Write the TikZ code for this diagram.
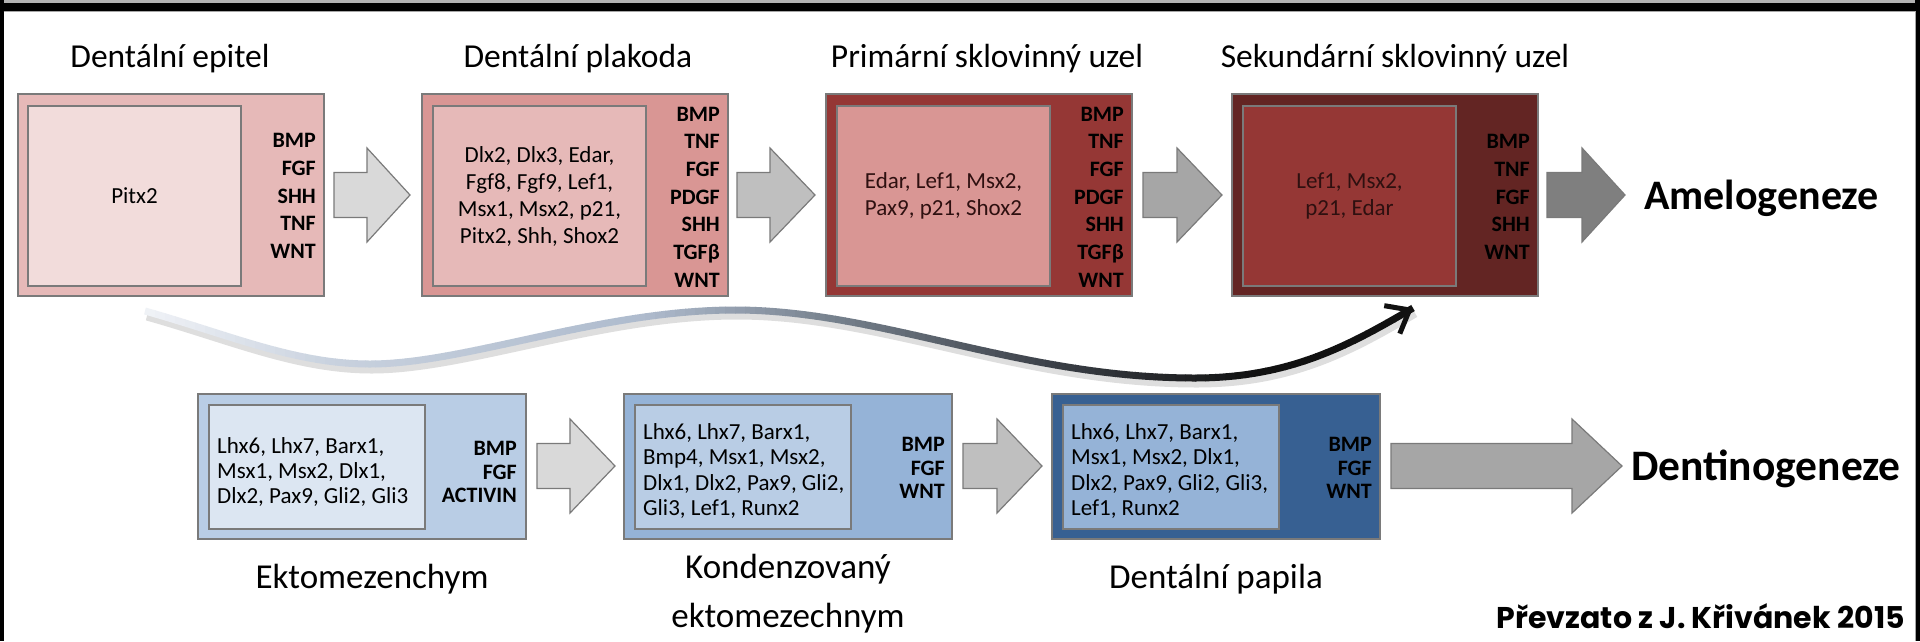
\documentclass[tikz,border=0pt]{standalone}
\usepackage{fontspec}
\setmainfont{Carlito}
\newfontfamily\creditfont{Poppins}
\usetikzlibrary{arrows.meta}

\definecolor{bdr}{HTML}{7A7A7A}
\definecolor{pAo}{HTML}{E6B9B8}\definecolor{pAi}{HTML}{F2DCDB}
\definecolor{pBo}{HTML}{D99694}\definecolor{pBi}{HTML}{E6B9B8}
\definecolor{pCo}{HTML}{953735}\definecolor{pCi}{HTML}{D99694}
\definecolor{pDo}{HTML}{632523}\definecolor{pDi}{HTML}{953735}
\definecolor{qAo}{HTML}{B9CDE5}\definecolor{qAi}{HTML}{DCE6F2}
\definecolor{qBo}{HTML}{95B3D7}\definecolor{qBi}{HTML}{B9CDE5}
\definecolor{qCo}{HTML}{376092}\definecolor{qCi}{HTML}{95B3D7}
\definecolor{gA}{HTML}{D9D9D9}\definecolor{gB}{HTML}{BFBFBF}
\definecolor{gC}{HTML}{A6A6A6}\definecolor{gD}{HTML}{7F7F7F}
\definecolor{wA}{HTML}{F2F4F8}\definecolor{wB}{HTML}{C8D1DE}
\definecolor{wC}{HTML}{AEBBCD}\definecolor{wD}{HTML}{7E8996}
\definecolor{wE}{HTML}{3A3F46}\definecolor{wF}{HTML}{111111}
\definecolor{darktxt}{HTML}{2E1010}

\tikzset{
  obox/.style={draw=bdr, line width=1.3pt, anchor=north west, inner sep=0pt, outer sep=0pt},
  topo/.style={obox, minimum width=306pt, minimum height=202pt},
  topi/.style={obox, minimum width=213pt, minimum height=180pt, align=center,
     font=\fontsize{23}{27}\selectfont},
  boto/.style={obox, minimum width=328pt, minimum height=145pt},
  boti/.style={obox, minimum width=216pt, minimum height=124pt},
  btxt/.style={anchor=west, align=left, inner sep=0pt, font=\fontsize{23}{25.4}\selectfont},
  lab/.style={anchor=east, align=right, inner sep=0pt, font=\fontsize{22}{27.7}\selectfont\bfseries},
  blab/.style={anchor=east, align=right, inner sep=0pt, font=\fontsize{22}{23.5}\selectfont\bfseries},
  ttl/.style={anchor=base, inner sep=0pt, font=\fontsize{33.5}{40}\selectfont},
  bttl/.style={anchor=base, inner sep=0pt, font=\fontsize{35}{40}\selectfont},
  big/.style={anchor=base west, inner sep=0pt, font=\fontsize{42}{50}\selectfont\bfseries},
  barr/.style={draw=bdr, line width=1.2pt, line join=miter},
  wavesty/.style={line width=7pt},
}

\newcommand\blockarrow[5]{% xtail, xhead, xtip, ycenter, fill
  \draw[barr, fill=#5] (#1,#4-22.5) -- (#2,#4-22.5) -- (#2,#4-47) -- (#3,#4)
     -- (#2,#4+47) -- (#2,#4+22.5) -- (#1,#4+22.5) -- cycle;}

\newcommand\drawwave[1]{%
  \draw[wavesty,#1] (w0) .. controls (c1) and (c2) .. (w1)
     .. controls (c3) and (c4) .. (w2)
     .. controls (c5) and (c6) .. (w3)
     .. controls (c7) and (c8) .. (w4);}

\newcommand\waveseg[4]{%
  \pgfmathtruncatemacro\nst{(#2-#1)/10}
  \foreach \k in {1,...,\nst}{
    \pgfmathsetmacro\xa{#1+(\k-1)*10}
    \pgfmathsetmacro\xb{\xa+10.7}
    \pgfmathtruncatemacro\pct{100*(\k-0.5)/\nst}
    \colorlet{wcol}{#4!\pct!#3}
    \begin{scope}
      \clip (\xa,230) rectangle (\xb,440);
      \drawwave{draw=wcol}
    \end{scope}
  }}

\begin{document}
\begin{tikzpicture}[x=1pt,y=-1pt]
\useasboundingbox (0,0) rectangle (1920,641);
\fill[white] (0,0) rectangle (1920,641);

% ---- frame ----
\fill[black] (0,0) rectangle (1920,11);
\fill[gray!60] (0,0) rectangle (1920,2.5);
\fill[black] (0,0) rectangle (3.5,641);
\fill[black] (1915,0) rectangle (1920,641);
\draw[gray!70, line width=1pt] (3.5,11) -- (1915,11) -- (1915,641);

% ---- titles ----
\node[ttl] (h1) at (170,67) {Dentální epitel};
\node[ttl] (h2) at (578,67) {Dentální plakoda};
\node[ttl] (h3) at (987,67) {Primární sklovinný uzel};
\node[ttl] (h4) at (1395,67) {Sekundární sklovinný uzel};

% ---- top boxes ----
\node[topo, fill=pAo] (b1) at (18,94) {};
\node[topi, fill=pAi] (b1i) at (28,106) {Pitx2};
\node[lab] (l1) at (316,196) {BMP\\FGF\\SHH\\TNF\\WNT};

\node[topo, fill=pBo] (b2) at (422,94) {};
\node[topi, fill=pBi] (b2i) at (433,106) {Dlx2, Dlx3, Edar,\\Fgf8, Fgf9, Lef1,\\Msx1, Msx2, p21,\\Pitx2, Shh, Shox2};
\node[lab] (l2) at (720,197) {BMP\\TNF\\FGF\\PDGF\\SHH\\TGFβ\\WNT};

\node[topo, fill=pCo] (b3) at (826,94) {};
\node[topi, fill=pCi, text=darktxt] (b3i) at (837,106) {Edar, Lef1, Msx2,\\Pax9, p21, Shox2};
\node[lab] (l3) at (1124,197) {BMP\\TNF\\FGF\\PDGF\\SHH\\TGFβ\\WNT};

\node[topo, fill=pDo] (b4) at (1232,94) {};
\node[topi, fill=pDi, text=darktxt] (b4i) at (1243,106) {Lef1, Msx2,\\p21, Edar};
\node[lab] (l4) at (1530,197) {BMP\\TNF\\FGF\\SHH\\WNT};

% ---- top arrows ----
\blockarrow{334}{367}{410}{195}{gA}
\blockarrow{737}{770}{815}{195}{gB}
\blockarrow{1143}{1177}{1222}{195}{gC}
\blockarrow{1547}{1582}{1625}{195}{gD}

\node[big] (amel) at (1644,209) {Amelogeneze};

% ---- bottom boxes ----
\node[boto, fill=qAo] (b5) at (198,394) {};
\node[boti, fill=qAi] (b5i) at (209,405) {};
\node[btxt] (t5) at ([xshift=8pt,yshift=-5pt]b5i.west) {Lhx6, Lhx7, Barx1,\\Msx1, Msx2, Dlx1,\\Dlx2, Pax9, Gli2, Gli3};
\node[blab] (l5) at (517,472) {BMP\\FGF\\ACTIVIN};

\node[boto, fill=qBo] (b6) at (624,394) {};
\node[boti, fill=qBi] (b6i) at (635,405) {};
\node[btxt] (t6) at ([xshift=8pt,yshift=-4pt]b6i.west) {Lhx6, Lhx7, Barx1,\\Bmp4, Msx1, Msx2,\\Dlx1, Dlx2, Pax9, Gli2,\\Gli3, Lef1, Runx2};
\node[blab] (l6) at (945,468) {BMP\\FGF\\WNT};

\node[boto, fill=qCo] (b7) at (1052,394) {};
\node[boti, fill=qCi] (b7i) at (1063,405) {};
\node[btxt] (t7) at ([xshift=8pt,yshift=-4pt]b7i.west) {Lhx6, Lhx7, Barx1,\\Msx1, Msx2, Dlx1,\\Dlx2, Pax9, Gli2, Gli3,\\Lef1, Runx2};
\node[blab] (l7) at (1372,468) {BMP\\FGF\\WNT};

% ---- bottom arrows ----
\blockarrow{537}{570}{615}{466}{gA}
\blockarrow{963}{997}{1042}{466}{gB}
\blockarrow{1391}{1572}{1622}{466}{gC}

\node[big, font=\fontsize{43.5}{52}\selectfont\bfseries] (dent) at (1631,480) {Dentinogeneze};

% ---- bottom labels ----
\node[bttl] (e5) at (372,588) {Ektomezenchym};
\node[bttl] (e6a) at (788,578) {Kondenzovaný};
\node[bttl] (e6b) at (788,627) {ektomezechnym};
\node[bttl] (e7) at (1216,588) {Dentální papila};

\node[anchor=base east, inner sep=0pt, font=\creditfont\fontsize{30}{34}\selectfont\bfseries] (cr) at (1905,628) {Převzato z J. Křivánek 2015};

% ---- wave connector ----
\coordinate (w0) at (145,311);
\coordinate (c1) at (230,335);
\coordinate (c2) at (295,364);
\coordinate (w1) at (370,364);
\coordinate (c3) at (465,364);
\coordinate (c4) at (600,310);
\coordinate (w2) at (735,310);
\coordinate (c5) at (880,310);
\coordinate (c6) at (1020,378);
\coordinate (w3) at (1195,378);
\coordinate (c7) at (1290,378);
\coordinate (c8) at (1350,345);
\coordinate (w4) at (1413,308);
\coordinate (wtail) at (1404,313);

\drawwave{draw=black, opacity=0.13, line width=9pt, transform canvas={shift={(2pt,-5pt)}}}
\waveseg{135}{335}{wA}{wB}
\waveseg{335}{645}{wB}{wC}
\waveseg{645}{805}{wC}{wD}
\waveseg{805}{1055}{wD}{wE}
\waveseg{1055}{1255}{wE}{wF}
\waveseg{1255}{1435}{wF}{wF}
\draw[wF, line width=5pt, -{Straight Barb[length=20pt, width=32pt]}] (wtail) -- (w4);
\end{tikzpicture}
\end{document}
